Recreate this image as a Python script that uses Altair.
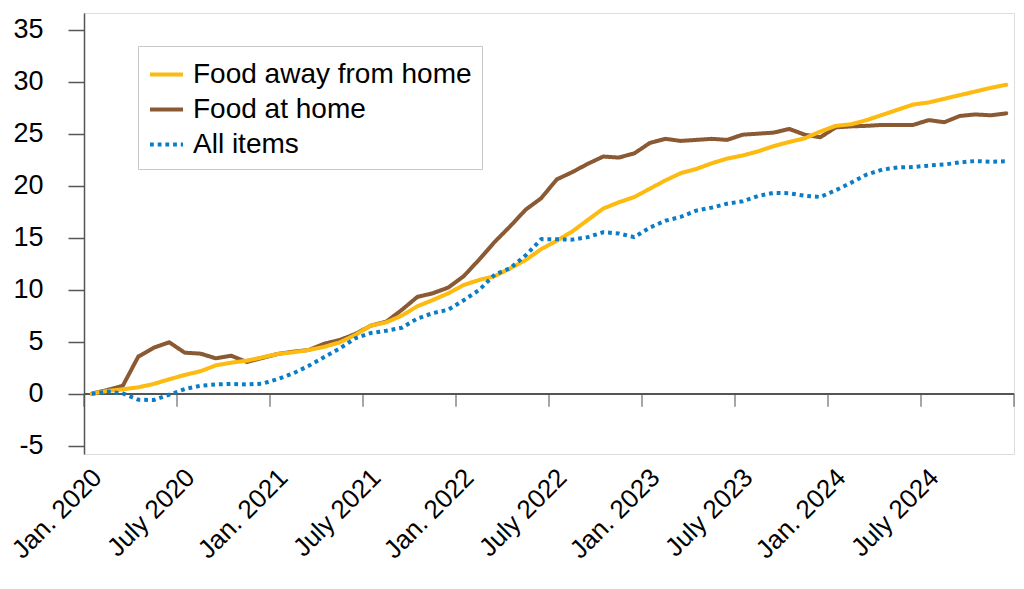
import altair as alt
import pandas as pd

# ---- data (cumulative percent change since Jan. 2020, monthly Jan 2020 - Dec 2024) ----
series_names = ["Food away from home", "Food at home", "All items"]
series_colors = ["#FDBB12", "#8A5A34", "#0A7DC6"]

food_away = [0, 0.26, 0.42, 0.61, 0.93, 1.38, 1.8, 2.15, 2.72, 2.98, 3.17, 3.49,
             3.82, 3.98, 4.2, 4.5, 4.93, 5.65, 6.54, 6.86, 7.5, 8.4, 9.0, 9.65,
             10.45, 10.93, 11.3, 12.05, 12.85, 13.9, 14.7, 15.6, 16.7, 17.8, 18.4, 18.9,
             19.7, 20.5, 21.2, 21.6, 22.15, 22.6, 22.9, 23.3, 23.8, 24.2, 24.55, 25.2,
             25.75, 25.9, 26.3, 26.8, 27.3, 27.8, 28.0, 28.35, 28.7, 29.05, 29.4, 29.7]

food_home = [0, 0.35, 0.75, 3.56, 4.42, 4.94, 3.94, 3.85, 3.4, 3.65, 3.05, 3.43,
             3.82, 4.04, 4.2, 4.8, 5.16, 5.74, 6.54, 6.92, 8.05, 9.3, 9.65, 10.2,
             11.3, 12.9, 14.6, 16.1, 17.7, 18.8, 20.6, 21.3, 22.1, 22.8, 22.7, 23.1,
             24.1, 24.5, 24.3, 24.4, 24.5, 24.4, 24.9, 25.0, 25.1, 25.45, 24.9, 24.65,
             25.6, 25.7, 25.75, 25.84, 25.84, 25.84, 26.3, 26.1, 26.7, 26.85, 26.76, 26.95]

all_items = [0, 0.2, 0.02, -0.58, -0.61, -0.1, 0.44, 0.76, 0.89, 0.94, 0.88, 0.97,
             1.4, 1.95, 2.68, 3.52, 4.35, 5.32, 5.83, 6.05, 6.33, 7.22, 7.74, 8.07,
             8.98, 9.98, 11.45, 12.07, 13.31, 14.86, 14.85, 14.81, 15.05, 15.52, 15.41, 15.05,
             15.97, 16.62, 17.0, 17.6, 17.89, 18.27, 18.5, 19.02, 19.31, 19.27, 19.03, 18.91,
             19.56, 20.29, 21.07, 21.54, 21.75, 21.79, 21.93, 22.03, 22.23, 22.37, 22.3, 22.34]

tick_labels = ["Jan. 2020", "July 2020", "Jan. 2021", "July 2021", "Jan. 2022",
               "July 2022", "Jan. 2023", "July 2023", "Jan. 2024", "July 2024"]
y_ticks = [-5, 0, 5, 10, 15, 20, 25, 30, 35]

# month index i: 0 = Jan. 2020; ticks sit at month boundaries
tick_positions = [-0.5 + 6 * k for k in range(11)]
label_positions = tick_positions[:len(tick_labels)]

rows = []
for name, vals in zip(series_names, [food_away, food_home, all_items]):
    for i, v in enumerate(vals):
        rows.append({"i": i, "value": v, "series": name})
df = pd.DataFrame(rows)
ticks_df = pd.DataFrame({"i": tick_positions})

FONT = "Liberation Sans"
label_expr = "[" + ",".join("'" + s + "'" for s in tick_labels) + "][round((datum.value + 0.5) / 6)]"

x_axis = alt.Axis(values=label_positions, labelExpr=label_expr, labelAngle=-45,
                  ticks=False, domain=False, grid=False, labelFontSize=26,
                  labelFont=FONT, labelColor="#000000", labelPadding=10,
                  labelOffset=4, labelOverlap=False, labelBound=False, title=None)
x_scale = alt.Scale(domain=[-0.5, 59.5], nice=False, zero=False)
y_scale = alt.Scale(domain=[-5.8, 36.6], nice=False, zero=False)
y_axis = alt.Axis(values=y_ticks, labelExpr="toString(datum.value)", tickSize=16,
                  tickColor="#555555", tickWidth=1.5,
                  domainColor="#555555", domainWidth=1.5, gridColor="#e4e4e4",
                  gridWidth=1.5, labelFontSize=27, labelFont=FONT,
                  labelColor="#000000", labelPadding=25, title=None)

legend = alt.Legend(orient="none", legendX=54, legendY=33, symbolType="stroke",
                    symbolSize=1089, symbolStrokeWidth=4, labelFontSize=28,
                    labelFont=FONT, labelColor="#000000", labelLimit=500,
                    fillColor="white", strokeColor="#c8c8c8", padding=10,
                    rowPadding=2, labelOffset=8)

color = alt.Color("series:N", scale=alt.Scale(domain=series_names, range=series_colors),
                  legend=legend, title=None)
dash = alt.StrokeDash("series:N",
                      scale=alt.Scale(domain=series_names, range=[[1, 0], [1, 0], [3.8, 3.9]]),
                      legend=legend, title=None)

zero_line = alt.Chart(df).mark_rule(color="#555555", strokeWidth=1.5).encode(
    y=alt.Y(datum=0, scale=y_scale, axis=y_axis))

x_ticks = alt.Chart(ticks_df).mark_tick(orient="vertical", size=13, thickness=1.5,
                                        color="#555555", yOffset=6.5).encode(
    x=alt.X("i:Q", scale=x_scale, axis=x_axis),
    y=alt.Y(datum=0, scale=y_scale, axis=y_axis))

def series_layer(name, cap):
    return alt.Chart(df).transform_filter(alt.datum.series == name).mark_line(
        strokeWidth=4, strokeCap=cap, strokeJoin="round").encode(
        x=alt.X("i:Q", scale=x_scale, axis=x_axis),
        y=alt.Y("value:Q", scale=y_scale, axis=y_axis),
        color=color, strokeDash=dash)

chart = alt.layer(
    zero_line, x_ticks,
    series_layer("Food at home", "round"),
    series_layer("Food away from home", "round"),
    series_layer("All items", "butt"),
).properties(
    width=930, height=441,
    autosize=alt.AutoSizeParams(type="none"),
    padding={"left": 76, "top": 5, "right": 2, "bottom": 125},
).configure_view(stroke=None).configure(background="white")

chart.save("out.html", embed_options={"renderer": "svg", "actions": False})
